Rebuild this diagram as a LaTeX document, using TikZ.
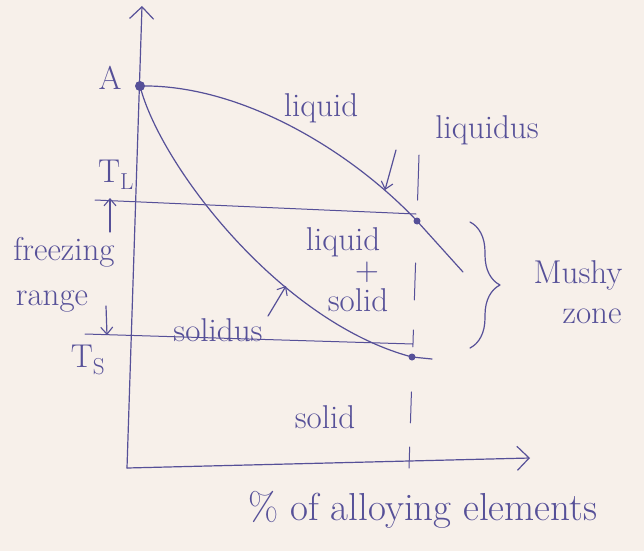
\documentclass[tikz,border=0pt]{standalone}
\usetikzlibrary{arrows.meta,decorations.pathreplacing,calc}
\definecolor{ink}{RGB}{86,80,152}
\definecolor{paper}{RGB}{247,240,234}
\begin{document}
\begin{tikzpicture}[x=1pt,y=-1pt,
  line/.style={draw=ink,line width=1.2pt,line cap=round,line join=round},
  barb/.style={-{Straight Barb[length=12pt,width=24pt,line width=1.2pt]}},
  smallbarb/.style={-{Straight Barb[length=7pt,width=12pt,line width=1.1pt]}},
  lbl/.style={text=ink,inner sep=0pt,font=\fontsize{33}{35}\selectfont},
  dot/.style={circle,fill=ink,inner sep=0pt,minimum size=8pt}]
\fill[paper] (0,0) rectangle (644,551);
\useasboundingbox (0,0) rectangle (644,551);
% axes
\coordinate (O) at (127,468);
\coordinate (ytip) at (142,6);
\coordinate (xtip) at (530,458);
\draw[line,barb] (O) -- (ytip);
\draw[line,barb] (O) -- (xtip);
% key points
\node[dot,minimum size=10pt] (A) at (140,86) {};
\node[dot,minimum size=7pt] (L) at (417,221) {};
\node[dot,minimum size=7pt] (S) at (412,357) {};
\coordinate (liqend) at (463,272);
\coordinate (solend) at (432,359);
% liquidus and solidus curves
\draw[line] (A.center) .. controls (240,84) and (350,150) .. (L.center) -- (liqend);
\draw[line] (A.center) .. controls (160,165) and (280,322) .. (S.center) -- (solend);
% temperature lines
\coordinate (tl1) at (95,200); \coordinate (tl2) at (416,214);
\coordinate (ts1) at (85,334); \coordinate (ts2) at (413,344);
\draw[line,line width=1pt] (tl1) -- (tl2);
\draw[line,line width=1pt] (ts1) -- (ts2);
% dashed vertical composition line
\coordinate (dtop) at (419,155); \coordinate (dbot) at (409,468);
\foreach \a/\b in {0/0.144, 0.345/0.463, 0.559/0.613, 0.757/0.856, 0.933/1}
  \draw[line,line width=1pt] ($(dtop)!\a!(dbot)$) -- ($(dtop)!\b!(dbot)$);
% pointer arrows
\coordinate (p1a) at (396,150); \coordinate (p1b) at (385,190);
\draw[line,smallbarb] (p1a) -- (p1b);
\coordinate (p2a) at (110,232); \coordinate (p2b) at (110,198);
\draw[line,smallbarb] (p2a) -- (p2b);
\coordinate (p3a) at (106,306); \coordinate (p3b) at (107,335);
\draw[line,smallbarb] (p3a) -- (p3b);
\coordinate (p4a) at (268,316); \coordinate (p4b) at (286,286);
\draw[line,smallbarb] (p4a) -- (p4b);
% brace
\coordinate (b1) at (470,222); \coordinate (b2) at (470,348);
\draw[line,decorate,decoration={brace,amplitude=30pt}] (b1) -- (b2);
% labels
\node[lbl] (lA) at (110,78) {A};
\node[lbl] (lliq) at (321,108) {liquid};
\node[lbl] (lliqus) at (487,130) {liquidus};
\node[lbl] (lTL) at (116,175) {T\textsubscript{L}};
\node[lbl] (lfr) at (64,252) {freezing};
\node[lbl] (lra) at (52,302) {range};
\node[lbl] (lTS) at (88,360) {T\textsubscript{S}};
\node[lbl] (lsolidus) at (218,330) {solidus};
\node[lbl] (lls1) at (343,242) {liquid};
\node[lbl] (lls2) at (367,272) {+};
\node[lbl] (lls3) at (358,300) {solid};
\node[lbl] (lmu1) at (578,275) {Mushy};
\node[lbl] (lmu2) at (592,316) {zone};
\node[lbl] (lsol) at (325,417) {solid};
\node[lbl,font=\fontsize{39}{41}\selectfont] (lx) at (423,510) {\% of alloying elements};
\end{tikzpicture}
\end{document}
